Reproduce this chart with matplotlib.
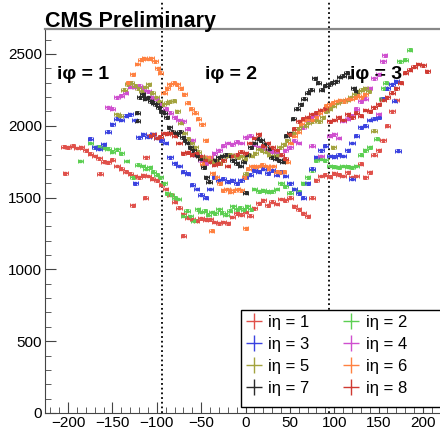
import matplotlib
matplotlib.use("Agg")
import matplotlib.pyplot as plt
from matplotlib.lines import Line2D
from matplotlib.patches import Rectangle
from matplotlib.ticker import MultipleLocator

plt.rcParams["font.family"] = ["Liberation Sans", "DejaVu Sans"]

# --- data ------------------------------------------------------------------
eta1_x = [-205, -200, -195, -190, -185, -180, -175, -170, -165, -160,
          -155, -150, -145, -140, -135, -130, -125, -120, -115, -110,
          -105, -100, -95, -90, -85, -80, -75, -70, -65, -60,
          -55, -50, -45, -40, -35, -30, -25, -20, -15, -10,
          -5, 0, 5, 10, 15, 20, 25, 30, 35, 40,
          45, 50, 55, 60, 65, 70, 75, 80, 85, 90,
          95, 100, 105, 110, 115, 120, 125, 130, 135, 140,
          145, 150, 155, 160, 165, 170,
          -203, -164, -127, -113, -70, -112]
eta1_y = [1855, 1850, 1860, 1845, 1850, 1830, 1805, 1790, 1775, 1750,
          1745, 1765, 1720, 1700, 1680, 1665, 1650, 1640, 1655, 1650,
          1630, 1620, 1590, 1560, 1520, 1470, 1430, 1385, 1360, 1350,
          1340, 1355, 1345, 1350, 1330, 1320, 1330, 1320, 1365, 1390,
          1380, 1400, 1375, 1425, 1460, 1480, 1445, 1470, 1455, 1490,
          1480, 1500, 1440, 1420, 1390, 1370, 1500, 1620, 1650, 1660,
          1645, 1670, 1660, 1650, 1675, 1640, 1650, 1735, 1640, 1675,
          1800, 1830, 1900, 2000, 2100, 2180,
          1670, 1665, 1445, 1500, 1235, 1780]

eta2_x = [-186, -175, -170, -165, -160, -155, -150, -145, -140, -134,
          -127, -121, -116, -112, -108, -104, -100, -96, -92, -88,
          -84, -80, -76, -70, -66, -62, -58, -54, -50, -46,
          -42, -38, -34, -30, -26, -22, -18, -14, -10, -6,
          -2, 2, 6, 10, 15, 20, 25, 30, 35, 40,
          45, 50, 55, 60, 65, 70, 75, 80, 85, 90,
          95, 100, 105, 110, 115, 120, 125, 130, 135, 140,
          148, 154, 156, 158, 174, 180, 185]
eta2_y = [1755, 1880, 1850, 1855, 1845, 1840, 1820, 1835, 1810, 1755,
          1640, 1730, 1720, 1700, 1710, 1680, 1660, 1640, 1600, 1530,
          1520, 1500, 1490, 1375, 1410, 1370, 1340, 1420, 1400, 1410,
          1380, 1400, 1390, 1420, 1395, 1380, 1410, 1440, 1420, 1430,
          1415, 1440, 1420, 1560, 1545, 1550, 1540, 1545, 1560, 1600,
          1580, 1535, 1560, 1540, 1600, 1640, 1690, 1760, 1770, 1760,
          1720, 1715, 1710, 1720, 1715, 1710, 1720, 1800, 1830, 1850,
          1910, 2190, 2260, 2300, 2450, 2460, 2530]

eta3_x = [-175, -170, -165, -160, -155, -150, -145, -140, -135, -130,
          -125, -120, -115, -110, -105, -100, -95, -90, -85, -80,
          -75, -70, -65, -60, -55, -50, -45, -40, -35, -30,
          -25, -20, -15, -10, -5, 0, 5, 10, 15, 20,
          25, 30, 35, 40, 45, 50, 55, 60, 65, 70,
          75, 80, 85, 90, 95, 100, 105, 110, 115, 120,
          125, 130, 135, 140, 145, 150, 155, 160, 165, 170,
          -124, 120, 172, 168]
eta3_y = [1910, 1850, 1840, 1870, 1960, 2010, 2050, 2040, 2070, 2080,
          2040, 1920, 1940, 1925, 1940, 1915, 1900, 1880, 1780, 1740,
          1720, 1680, 1665, 1590, 1560, 1520, 1500, 1560, 1640, 1620,
          1630, 1610, 1620, 1600, 1620, 1640, 1660, 1690, 1680, 1700,
          1670, 1690, 1660, 1680, 1650, 1600, 1560, 1530, 1500, 1600,
          1700, 1780, 1830, 1860, 1790, 1785, 1800, 1790, 1830, 1880,
          1930, 1990, 2000, 2040, 2050, 2060, 2190, 2260, 2290, 2310,
          1600, 1630, 1825, 2175]

eta4_x = [-155, -150, -145, -140, -135, -130, -125, -120, -115, -110,
          -105, -100, -95, -90, -85, -80, -75, -70, -65, -60,
          -55, -50, -45, -40, -35, -30, -25, -20, -15, -10,
          -5, 0, 5, 10, 15, 20, 25, 30, 35, 40,
          45, 50, 55, 60, 65, 70, 75, 80, 95, 100,
          105, 110, 115, 120, 125, 130, 135, 140, 145, 150,
          155, 157, 75, 85, 150]
eta4_y = [2130, 2120, 2200, 2210, 2230, 2270, 2270, 2280, 2250, 2240,
          2200, 2190, 2150, 2120, 2090, 2060, 2040, 2030, 1980, 1900,
          1800, 1760, 1740, 1780, 1810, 1830, 1860, 1880, 1870, 1890,
          1880, 1920, 1930, 1870, 1850, 1840, 1830, 1820, 1810, 1800,
          1830, 1850, 1895, 1880, 1990, 2040, 2060, 2080, 1930, 1940,
          1915, 2035, 2050, 2070, 2120, 2170, 2190, 2260, 2330, 2360,
          2450, 2490, 1860, 1790, 2080]

eta5_x = [-145, -141, -137, -133, -129, -125, -121, -117, -113, -109,
          -105, -101, -97, -93, -89, -85, -81, -77, -73, -69,
          -65, -61, -57, -53, -49, -45, -41, -37, -33, -29,
          -25, -21, -17, -13, -9, -5, -1, 3, 7, 11,
          15, 19, 23, 27, 31, 35, 39, 43, 47, 51,
          55, 59, 63, 67, 71, 75, 79, 83, 87, 91,
          95, 99, 103, 107, 111, 115, 119, 123, 127, 131,
          135, 139, 145, 99, 0]
eta5_y = [2080, 2070, 2250, 2290, 2300, 2280, 2260, 2240, 2270, 2290,
          2230, 2200, 2170, 2150, 2160, 2170, 2175, 2100, 2020, 1950,
          1910, 1880, 1850, 1820, 1780, 1770, 1760, 1750, 1760, 1740,
          1760, 1790, 1800, 1790, 1780, 1790, 1770, 1800, 1790, 1810,
          1840, 1830, 1820, 1800, 1790, 1800, 1850, 1870, 1900, 1940,
          1950, 1980, 2000, 2000, 2020, 2030, 2040, 2030, 2060, 2100,
          2120, 2140, 2160, 2170, 2175, 2180, 2200, 2220, 2240, 2250,
          2260, 2240, 1965, 1850, 1665]

eta6_x = [-132, -127, -122, -118, -114, -110, -106, -102, -99, -96,
          -92, -88, -85, -81, -77, -73, -69, -65, -61, -57,
          -53, -49, -45, -41, -37, -33, -29, -25, -21, -17,
          -13, -9, -5, -1, 3, 7, 11, 15, 19, 23,
          27, 31, 35, 39, 43, 47, 51, 55, 59, 63,
          67, 71, 75, 79, 83, 87, 91, 95, 99, 103,
          107, 111, 115, 119, 123, 127, 131, 135, -38, 0,
          -48]
eta6_y = [2300, 2360, 2430, 2460, 2470, 2465, 2470, 2450, 2400, 2370,
          2230, 2260, 2290, 2300, 2290, 2260, 2220, 2160, 2120, 2090,
          2050, 2010, 1900, 1780, 1670, 1640, 1600, 1550, 1560, 1540,
          1550, 1560, 1550, 1640, 1700, 1720, 1715, 1720, 1730, 1720,
          1700, 1720, 1680, 1675, 1680, 1750, 1880, 1930, 1960, 2010,
          2040, 2050, 2040, 2060, 2090, 2110, 2140, 2150, 2160, 2170,
          2180, 2170, 2185, 2190, 2200, 2210, 2200, 2220, 1270, 1285,
          1735]

eta7_x = [-122, -122, -119, -116, -113, -110, -107, -104, -101, -98,
          -95, -92, -89, -86, -83, -80, -77, -74, -71, -68,
          -65, -62, -59, -56, -53, -50, -47, -44, -41, -34,
          -30, -26, -22, -18, -14, -10, -6, -2, 2, 6,
          10, 14, 18, 22, 26, 30, 34, 38, 42, 46,
          50, 54, 58, 62, 66, 70, 74, 78, 82, 86,
          90, 94, 98, 102, 106, 110, 114, 118, 122, 125,
          0]
eta7_y = [2090, 2035, 2200, 2220, 2190, 2200, 2170, 2160, 2150, 2130,
          2100, 2090, 2060, 1990, 1960, 1950, 1940, 1960, 1920, 1900,
          1880, 1850, 1830, 1800, 1790, 1770, 1710, 1640, 1610, 1760,
          1780, 1790, 1800, 1790, 1760, 1740, 1720, 1750, 1800, 1850,
          1880, 1910, 1900, 1870, 1840, 1780, 1770, 1760, 1750, 1930,
          1950, 2050, 2120, 2150, 2190, 2230, 2250, 2330, 2300, 2250,
          2280, 2290, 2300, 2310, 2340, 2350, 2370, 2340, 2260, 2240,
          1535]

eta8_x = [-108, -104, -100, -96, -92, -88, -84, -80, -75, -70,
          -65, -60, -55, -50, -45, -40, -35, -30, -25, -20,
          -15, -10, -5, 0, 5, 10, 15, 20, 25, 30,
          35, 40, 45, 50, 55, 60, 65, 70, 75, 80,
          85, 90, 95, 100, 105, 110, 115, 120, 125, 130,
          135, 140, 145, 150, 155, 160, 165, 170, 175, 180,
          185, 190, 195, 200, 205]
eta8_y = [1930, 1940, 1915, 1925, 1950, 1945, 1950, 1930, 1880, 1810,
          1815, 1800, 1810, 1790, 1760, 1750, 1730, 1740, 1760, 1720,
          1790, 1800, 1820, 1810, 1880, 1915, 1940, 1860, 1880, 1850,
          1830, 1800, 1770, 1940, 1980, 2030, 2050, 2060, 2080, 2090,
          2110, 2120, 2030, 2040, 2060, 2040, 2080, 2060, 2090, 2070,
          2110, 2100, 2130, 2150, 2180, 2200, 2230, 2260, 2300, 2370,
          2390, 2410, 2430, 2420, 2380]

eta_labels = ["iη = 1", "iη = 2", "iη = 3", "iη = 4",
              "iη = 5", "iη = 6", "iη = 7", "iη = 8"]
eta_colors = ["#e0504a", "#5ccf52", "#3a42e0", "#cf4fcf",
              "#a3a33e", "#ff8140", "#2a2a2a", "#d03a32"]
phi_labels = ["iφ = 1", "iφ = 2", "iφ = 3"]
phi_label_x = [-212, -46, 118]
phi_edges = [-94, 94]

series_x = [eta1_x, eta2_x, eta3_x, eta4_x, eta5_x, eta6_x, eta7_x, eta8_x]
series_y = [eta1_y, eta2_y, eta3_y, eta4_y, eta5_y, eta6_y, eta7_y, eta8_y]

# --- figure ----------------------------------------------------------------
fig = plt.figure(figsize=(4.4, 4.3), dpi=100)
ax = fig.add_axes([45 / 440, 17 / 430, 401 / 440, 384 / 430])

for xs, ys, c in zip(series_x, series_y, eta_colors):
    ax.errorbar(xs, ys, xerr=3, yerr=10, fmt="s", ms=1.5, color=c,
                elinewidth=0.7, capsize=1.1, capthick=0.7, zorder=3)

for xe in phi_edges:
    ax.axvline(xe, ymin=0, ymax=413 / 384, color="black", lw=1.3,
               ls=(0, (1, 1.6)), clip_on=False, zorder=2)

for lab, xl in zip(phi_labels, phi_label_x):
    ax.text(xl, 2326, lab, fontsize=14, fontweight="bold", va="baseline")

ax.set_xlim(-226, 226)
ax.set_ylim(0, 2674)
ax.xaxis.set_major_locator(MultipleLocator(50))
ax.xaxis.set_minor_locator(MultipleLocator(10))
ax.yaxis.set_major_locator(MultipleLocator(500))
ax.yaxis.set_minor_locator(MultipleLocator(100))
ax.tick_params(which="both", direction="in", top=False, right=False,
               color="#444444", labelsize=11)
ax.tick_params(which="major", length=8, pad=2)
ax.tick_params(which="minor", length=4)
for side in ["left", "bottom"]:
    ax.spines[side].set_color("#444444")
ax.spines["top"].set_color("#888888")
ax.spines["top"].set_linewidth(1.6)
ax.spines["right"].set_visible(False)

fig.text(45 / 440, 1 - 27 / 430, "CMS Preliminary", fontsize=15.5,
         fontweight="bold", va="baseline")

# legend, filled row by row like the reference; frame drawn separately
ax.add_patch(Rectangle((241 / 440, 1 - 407 / 430), 210 / 440, 97 / 430,
                       transform=fig.transFigure, facecolor="white",
                       edgecolor="black", lw=1.0, zorder=4, clip_on=False))
order = [0, 2, 4, 6, 1, 3, 5, 7]
handles = [Line2D([], [], color=eta_colors[i], marker="+", ls="None",
                  markersize=12, mew=1.0) for i in order]
labels = [eta_labels[i] for i in order]
leg = ax.legend(handles, labels, ncol=2, loc="upper left",
                bbox_to_anchor=(241 / 440, 1 - 310 / 430),
                bbox_transform=fig.transFigure, borderaxespad=0,
                fontsize=12, frameon=False, handlelength=1.0,
                handletextpad=0.35, columnspacing=2.0, labelspacing=0.42,
                borderpad=0.3)
leg.set_zorder(5)

fig.savefig("out.png", dpi=100)
